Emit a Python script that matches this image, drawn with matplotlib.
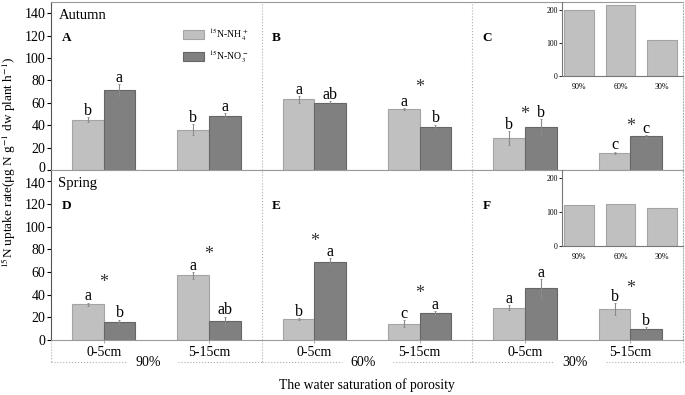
import numpy as np
import matplotlib
matplotlib.use("Agg")
import matplotlib.pyplot as plt
from matplotlib import transforms

plt.rcParams["font.family"] = ["Liberation Serif", "DejaVu Serif"]
plt.rcParams["mathtext.fontset"] = "stix"

# ── data ──────────────────────────────────────────────────────────────────────
depths = ["0-5cm", "5-15cm"]
saturation = ["90%", "60%", "30%"]
seasons = ["Autumn", "Spring"]
panel_tags = [["A", "B", "C"], ["D", "E", "F"]]

autumn_nh4 = [45, 36, 63, 54.5, 28.5, 15.5]
autumn_nh4_err = [2, 5, 3, 1, 6, 1]
autumn_no3 = [71.5, 48.5, 60, 38.5, 38.5, 30]
autumn_no3_err = [5, 2, 1.5, 2, 7, 1]
autumn_nh4_let = ["b", "b", "a", "a", "b", "c"]
autumn_no3_let = ["a", "a", "ab", "b", "b", "c"]
autumn_star_idx = [3, 4, 5]
autumn_star_y = [77.5, 53.5, 43]

spring_nh4 = [31.5, 57, 18.5, 14.5, 28.5, 27.5]
spring_nh4_err = [1.5, 3, 1, 3, 2, 5]
spring_no3 = [16, 16.5, 69, 24, 45.5, 10]
spring_no3_err = [2, 4, 3, 1.5, 8, 1.5]
spring_nh4_let = ["a", "a", "b", "c", "a", "b"]
spring_no3_let = ["b", "ab", "a", "a", "a", "b"]
spring_star_idx = [0, 1, 2, 3, 5]
spring_star_y = [54.5, 79.5, 91, 45, 49.5]

inset_autumn = [200, 215, 110]
inset_spring = [120, 125, 112]

LIGHT, LIGHT_EDGE = "#c0c0c0", "#a4a4a4"
DARK, DARK_EDGE = "#808080", "#666666"
SEP = "#b0b0b0"

W, H = 685, 395
fig = plt.figure(figsize=(W / 100, H / 100), dpi=100)


def fx(px):
    return px / W


def fy(py):
    return 1 - py / H


L, R = 51, 683
ax_top = fig.add_axes([fx(L), fy(170), fx(R - L), (170 - 2) / H])
ax_bot = fig.add_axes([fx(L), fy(340), fx(R - L), (340 - 170) / H])

series = [
    (autumn_nh4, autumn_nh4_err, autumn_no3, autumn_no3_err,
     autumn_nh4_let, autumn_no3_let, autumn_star_idx, autumn_star_y),
    (spring_nh4, spring_nh4_err, spring_no3, spring_no3_err,
     spring_nh4_let, spring_no3_let, spring_star_idx, spring_star_y),
]

x = np.arange(6) + 0.5
bw = 0.3
for row, (ax, s) in enumerate(zip([ax_top, ax_bot], series)):
    nh4, nh4e, no3, no3e, l1, l2, sidx, sy = s
    ax.bar(x - bw / 2, nh4, bw, color=LIGHT, edgecolor=LIGHT_EDGE, lw=0.8,
           label=r"$^{15}$N-NH$_4^+$", zorder=2)
    ax.bar(x + bw / 2, no3, bw, color=DARK, edgecolor=DARK_EDGE, lw=0.8,
           label=r"$^{15}$N-NO$_3^-$", zorder=2)
    ax.errorbar(x - bw / 2, nh4, yerr=nh4e, fmt="none", ecolor="#8a8a8a",
                elinewidth=0.8, capsize=1, capthick=0.6, zorder=3)
    ax.errorbar(x + bw / 2, no3, yerr=no3e, fmt="none", ecolor="#8a8a8a",
                elinewidth=0.8, capsize=1, capthick=0.6, zorder=3)
    for i in range(6):
        ax.text(x[i] - bw / 2, nh4[i] + nh4e[i] + 2, l1[i], ha="center",
                va="baseline", fontsize=11.5)
        ax.text(x[i] + bw / 2, no3[i] + no3e[i] + 2, l2[i], ha="center",
                va="baseline", fontsize=11.5)
    for i, yv in zip(sidx, sy):
        ax.text(x[i], yv - 8, "*", ha="center", va="baseline", fontsize=13,
                color="#333333")
    ax.set_xlim(0, 6)
    ax.set_ylim(0, 150)
    ax.set_yticks(np.arange(0, 141, 20))
    ax.set_xticks(x)
    ax.tick_params(axis="y", labelsize=10, length=3, width=0.8, pad=1)
    ax.tick_params(axis="x", length=2, width=0.6, color="#999999")
    for g in (2, 4):
        ax.axvline(g, color=SEP, ls=":", lw=0.8, zorder=1)
    for side in ("top", "bottom"):
        ax.spines[side].set_color("#9a9a9a")
    ax.spines["right"].set_color(SEP)
    ax.spines["right"].set_linestyle(":")
    ax.spines["left"].set_color("#555555")
    ax.text(0.07, 138, seasons[row], fontsize=10.5, va="center")
    for g in range(3):
        ax.text(2 * g + 0.1, 118, panel_tags[row][g], fontsize=9.5,
                fontweight="bold", va="center")

ax_top.set_xticklabels([])
ax_bot.set_xticklabels(depths * 3)
ax_bot.tick_params(axis="x", labelsize=10, pad=2)

# nudge the touching "0" / "140" labels apart a little
fig.canvas.draw()
lab0 = ax_top.get_yticklabels()[0]
lab0.set_transform(lab0.get_transform() + transforms.ScaledTranslation(0, 2 / 72, fig.dpi_scale_trans))
lab140 = ax_bot.get_yticklabels()[-1]
lab140.set_transform(lab140.get_transform() + transforms.ScaledTranslation(0, -1.5 / 72, fig.dpi_scale_trans))

ax_top.legend(loc="upper left", bbox_to_anchor=((183 - L) / (R - L), (170 - 26) / 168),
              frameon=False, fontsize=7, handlelength=2.2, handleheight=1.0,
              labelspacing=0.55, borderpad=0, borderaxespad=0, handletextpad=0.5)

# group brackets under the bottom panel
tr = transforms.blended_transform_factory(ax_bot.transData, ax_bot.transAxes)
yb = -(362 - 340) / 170
for g in range(4):
    ax_bot.plot([2 * g, 2 * g], [0, yb], transform=tr, color=SEP, ls=":",
                lw=0.8, clip_on=False)
lab_x = [0.92, 2.96, 4.975]
for g, lx in enumerate(lab_x):
    ax_bot.plot([2 * g, lx - 0.2], [yb, yb], transform=tr, color=SEP, ls=":",
                lw=0.8, clip_on=False)
    ax_bot.plot([lx + 0.29, 2 * g + 2], [yb, yb], transform=tr, color=SEP,
                ls=":", lw=0.8, clip_on=False)
    ax_bot.text(lx, yb, saturation[g], transform=tr, ha="center", va="center",
                fontsize=10)

fig.text((L + R) / 2 / W, fy(385), "The water saturation of porosity",
         ha="center", va="center", fontsize=9.8)
fig.text(fx(9), fy(162), r"$^{15}$N uptake rate(μg N g$^{-1}$ dw plant h$^{-1}$)",
         rotation=90, ha="center", va="center", fontsize=9.5)

# insets: total uptake per saturation level
for vals, top_px, bot_px in [(inset_autumn, 2, 76), (inset_spring, 170, 246)]:
    ins = fig.add_axes([fx(562), fy(bot_px), fx(R - 562), (bot_px - top_px) / H])
    ins.bar(np.arange(3), vals, 0.71, color=LIGHT, edgecolor=LIGHT_EDGE, lw=0.8)
    ins.set_xlim(-0.4, 2.5)
    ins.set_ylim(0, 224)
    ins.set_yticks([0, 100, 200])
    ins.set_xticks(np.arange(3))
    ins.set_xticklabels(saturation)
    ins.tick_params(axis="y", labelsize=5.5, length=2, width=0.6, pad=1)
    ins.tick_params(axis="x", labelsize=5.8, length=0, pad=5)
    ins.spines["top"].set_visible(False)
    ins.spines["right"].set_visible(False)
    ins.spines["left"].set_color("#777777")
    ins.spines["bottom"].set_color("#777777")
    ins.patch.set_alpha(0)

fig.savefig("out.png", dpi=100)
